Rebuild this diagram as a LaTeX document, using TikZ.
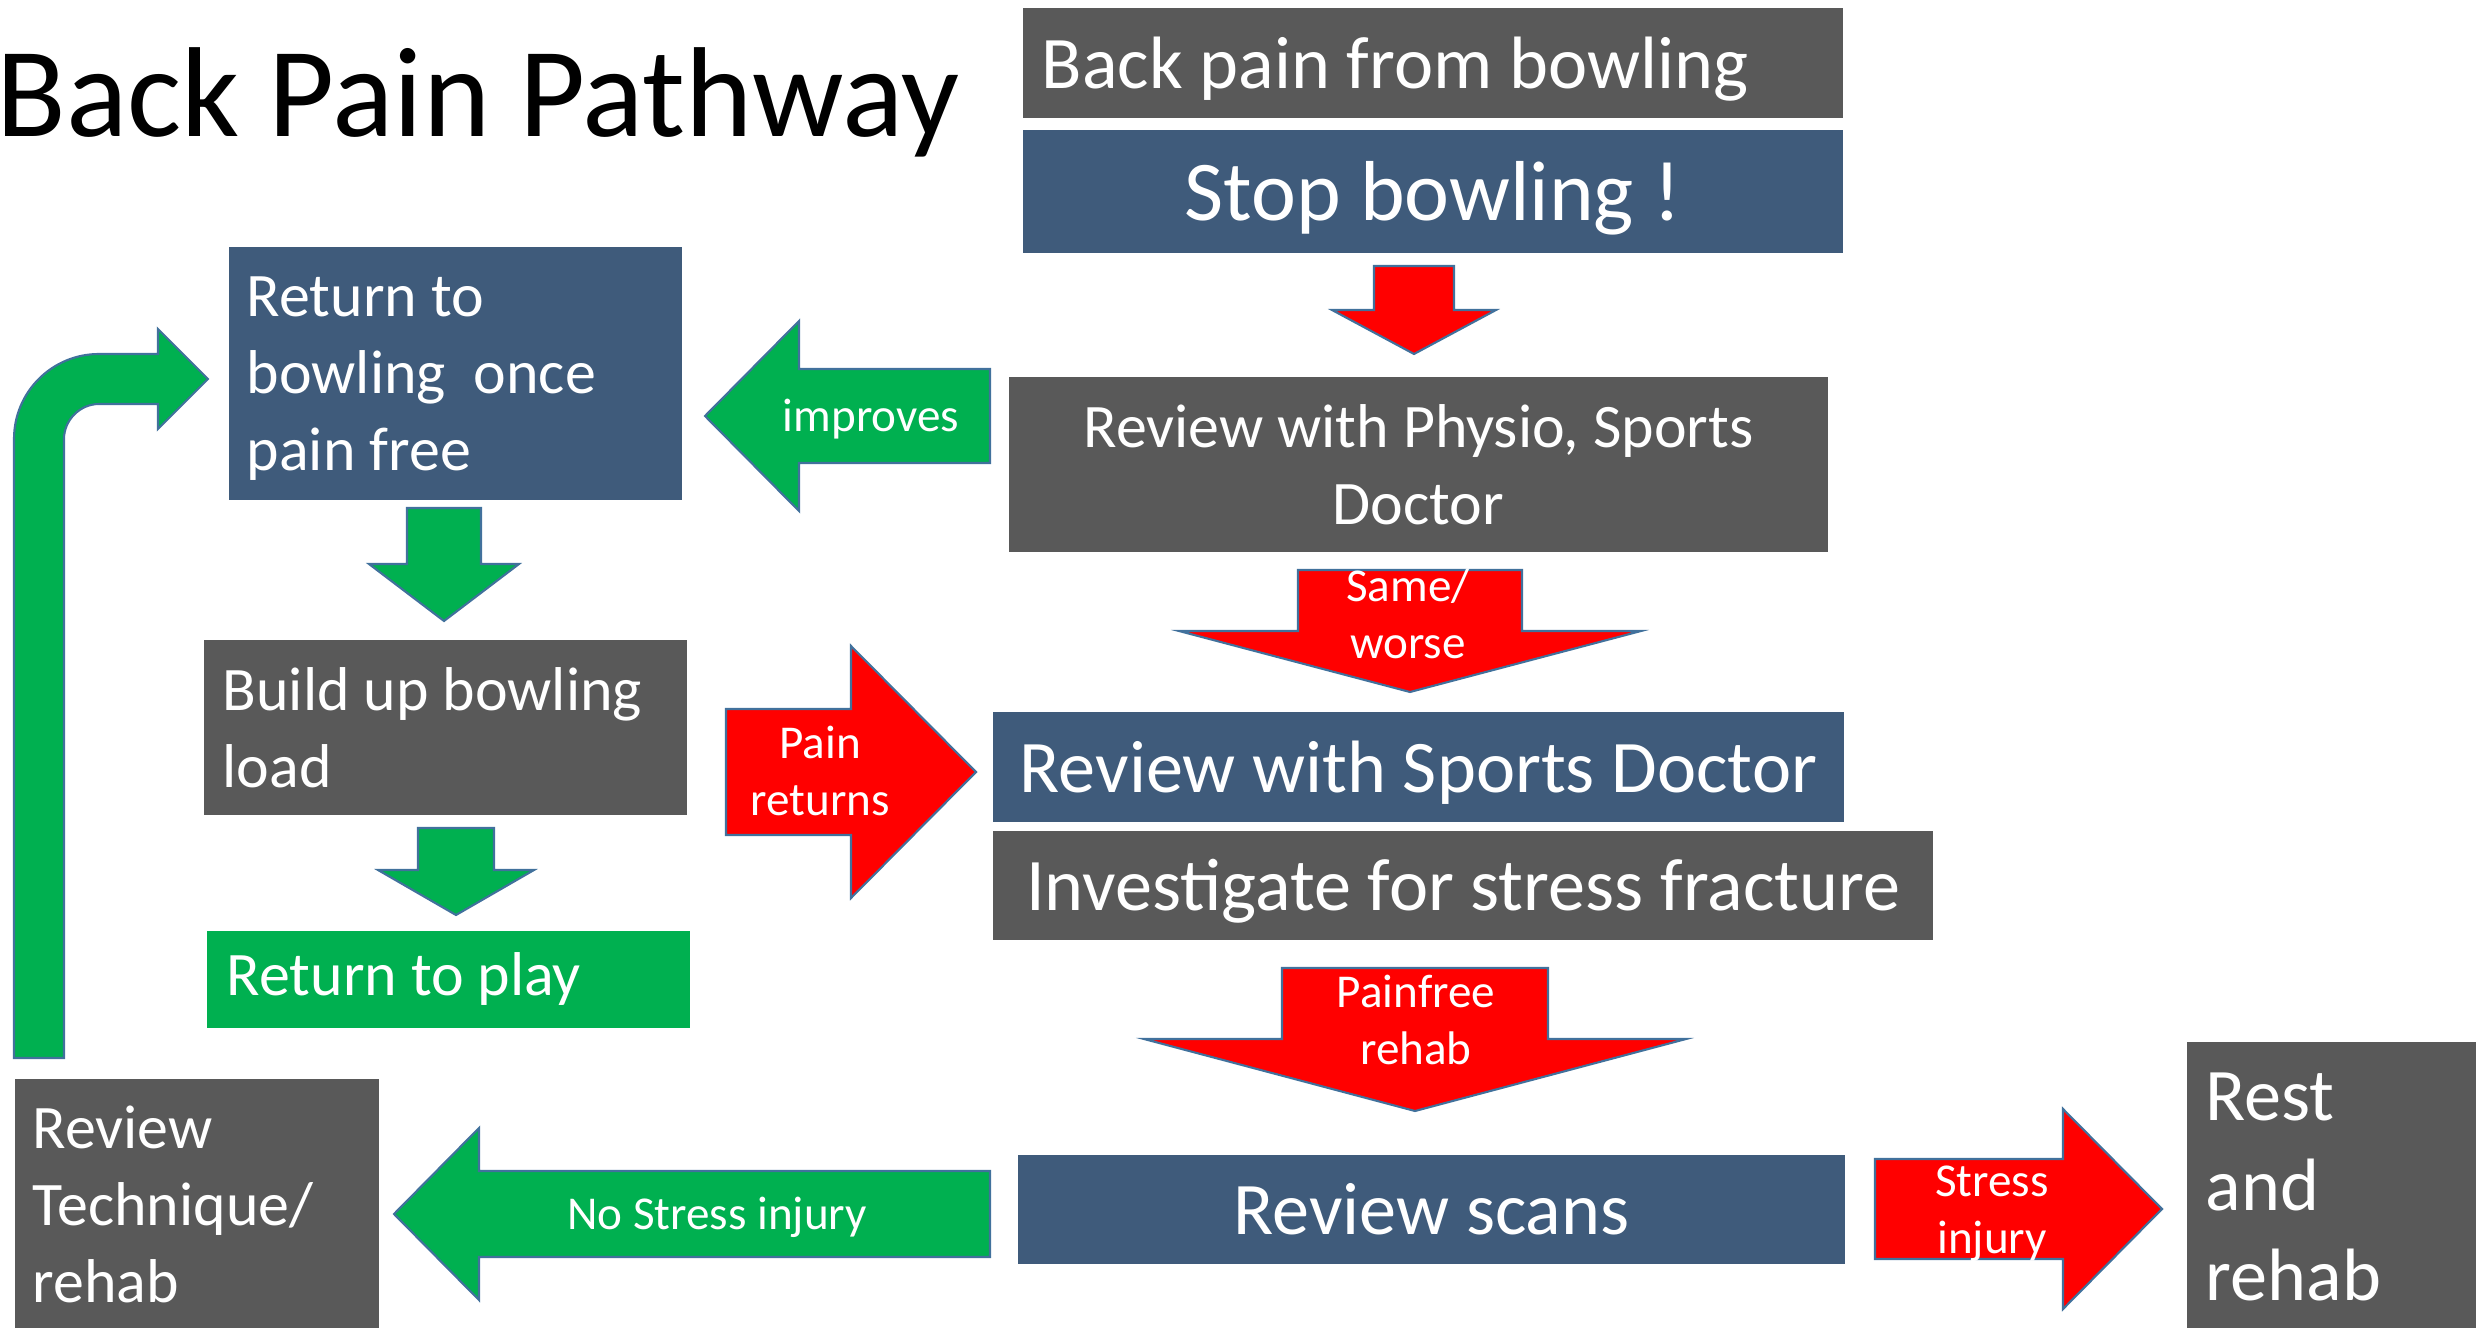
\documentclass[tikz,border=0pt]{standalone}
\usepackage{fontspec}
\setmainfont{Carlito}
\definecolor{boxgray}{HTML}{595959}
\definecolor{boxblue}{HTML}{3F5B7B}
\definecolor{okgreen}{HTML}{00B050}
\definecolor{edgeblue}{HTML}{41719C}
% block arrows: colour, centre, half shaft, tail, head base, half head, tip
\newcommand\varrow[7]{%
  \filldraw[fill=#1,draw=edgeblue,line width=0.6pt]
    (#2-#3,#4) -- (#2+#3,#4) -- (#2+#3,#5) -- (#2+#6,#5) -- (#2,#7)
    -- (#2-#6,#5) -- (#2-#3,#5) -- cycle;}
\newcommand\harrow[7]{%
  \filldraw[fill=#1,draw=edgeblue,line width=0.6pt]
    (#4,#2-#3) -- (#5,#2-#3) -- (#5,#2-#6) -- (#7,#2) -- (#5,#2+#6)
    -- (#5,#2+#3) -- (#4,#2+#3) -- cycle;}
\tikzset{
  pbox/.style={anchor=north west,inner sep=0pt,text=white,
    font=\fontsize{17.6}{21.9}\selectfont},
  graybox/.style={pbox,fill=boxgray},
  bluebox/.style={pbox,fill=boxblue},
  greenbox/.style={pbox,fill=okgreen},
  bigtext/.style={font=\fontsize{21.1}{25.6}\selectfont},
  lbl/.style={text=white,inner sep=0pt,align=center,
    font=\fontsize{13.4}{16.3}\selectfont}}

\begin{document}
\begin{tikzpicture}[x=0.01cm,y=-0.01cm]
\useasboundingbox (0,0) rectangle (2476,1328);
\node[anchor=base west,inner sep=0pt,font=\fontsize{36.4}{44}\selectfont]
  (title) at (-4,137) {Back Pain Pathway};

% right column
\node[graybox,bigtext,minimum width=8.2cm,minimum height=1.1cm,text depth=0pt,
  text width=7.82cm,inner xsep=0.19cm,align=flush left] (pain) at (1022,7) {Back pain from bowling};
\node[bluebox,minimum width=8.2cm,minimum height=1.23cm,text depth=0pt,
  font=\fontsize{24.2}{29}\selectfont] (stop) at (1022,129) {Stop bowling !};
\varrow{red}{1414}{40}{266}{310}{82}{354}
\node[graybox,minimum width=8.19cm,minimum height=1.75cm,align=center]
  (physio) at (1008,376) {Review with Physio, Sports\\Doctor};
\varrow{red}{1410}{112}{570}{631}{231}{692}
\node[lbl] (worse) at (1408,614) {Same/\\worse};
\node[bluebox,bigtext,minimum width=8.51cm,minimum height=1.1cm,text depth=0pt]
  (sports) at (992,711) {Review with Sports Doctor};
\node[graybox,bigtext,minimum width=9.4cm,minimum height=1.09cm,text depth=0pt]
  (invest) at (992,830) {Investigate for stress fracture};
\varrow{red}{1415}{133}{968}{1039}{271}{1111}
\node[lbl] (painfree) at (1416,1020) {Painfree\\rehab};
\node[bluebox,bigtext,minimum width=8.27cm,minimum height=1.09cm]
  (scans) at (1017,1154) {Review scans};
\harrow{red}{1209}{50}{1875}{2063}{100}{2162}
\node[lbl] (stress) at (1992,1214) {Stress\\injury};
\node[graybox,bigtext,minimum width=3.04cm,minimum height=2.9cm,
  text width=2.66cm,inner xsep=0.19cm,align=flush left] (rest) at (2186,1041) {Rest\\and\\rehab};

% left column
\harrow{okgreen}{416}{47}{990}{799}{95}{705}
\node[lbl,anchor=base] (improves) at (871,432) {improves};
\node[bluebox,minimum width=4.53cm,minimum height=2.53cm,text height=0.5cm,
  text width=4.17cm,inner xsep=0.18cm,align=flush left] (back) at (228,246) {Return to\\bowling~ once\\pain free};
\varrow{okgreen}{444}{37}{508}{564}{75}{621}
\node[graybox,minimum width=4.83cm,minimum height=1.75cm,
  text width=4.45cm,inner xsep=0.19cm,align=flush left] (build) at (203,639) {Build up bowling\\load};
\varrow{okgreen}{456}{38}{828}{870}{78}{915}
\node[greenbox,minimum width=4.83cm,minimum height=0.97cm,
  text width=4.43cm,inner xsep=0.2cm,align=flush left] (play) at (206,930) {Return to play};
\harrow{red}{772}{63}{726}{851}{126}{976}
\node[lbl] (returns) at (820,771) {Pain\\returns};
\harrow{okgreen}{1214}{43}{990}{479}{86}{394}
\node[lbl,anchor=base] (nostress) at (717,1229) {No Stress injury};
\node[graybox,minimum width=3.64cm,minimum height=2.51cm,
  text width=3.28cm,inner xsep=0.18cm,align=flush left] (technique) at (14,1078) {Review\\Technique/\\rehab};

% loop back up to the start
\filldraw[fill=okgreen,draw=edgeblue,line width=0.6pt]
  (14,1058) -- (14,439) .. controls (14,392) and (52,354) .. (99,354)
  -- (158,354) -- (158,329) -- (208,379) -- (158,429) -- (158,404)
  -- (99,404) .. controls (80,404) and (64,420) .. (64,439) -- (64,1058) -- cycle;
\end{tikzpicture}
\end{document}
